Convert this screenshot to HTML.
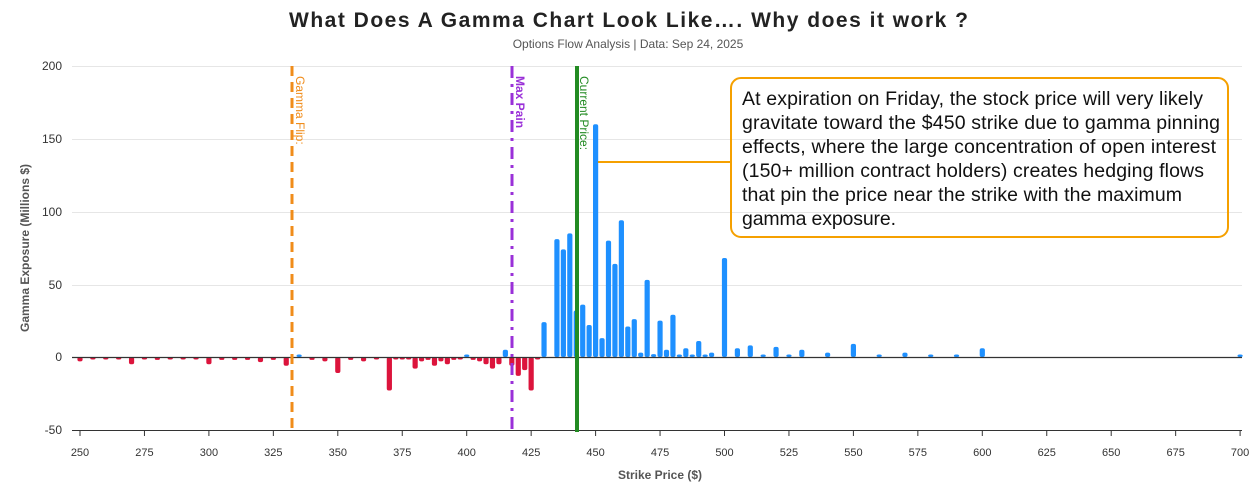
<!DOCTYPE html>
<html><head><meta charset="utf-8"><style>
body{margin:0;background:#fff;width:1256px;height:486px;overflow:hidden;font-family:"Liberation Sans",sans-serif}
</style></head><body>
<svg id="s" width="1256" height="486" xmlns="http://www.w3.org/2000/svg" font-family="Liberation Sans, sans-serif">
<text x="289" y="27" textLength="679" lengthAdjust="spacing" font-size="21" font-weight="bold" fill="#222">What Does A Gamma Chart Look Like…. Why does it work ?</text>
<text x="628" y="48" text-anchor="middle" font-size="12" fill="#555">Options Flow Analysis | Data: Sep 24, 2025</text>
<g stroke="#e6e6e6" stroke-width="1">
<line x1="72" x2="1242" y1="66.5" y2="66.5"/><line x1="72" x2="1242" y1="139.5" y2="139.5"/><line x1="72" x2="1242" y1="212.5" y2="212.5"/><line x1="72" x2="1242" y1="285.5" y2="285.5"/><line x1="72" x2="1242" y1="430.5" y2="430.5"/>
</g>
<g font-size="12" fill="#333" text-anchor="end">
<text x="62" y="70">200</text><text x="62" y="143">150</text><text x="62" y="216">100</text><text x="62" y="289">50</text><text x="62" y="361">0</text><text x="62" y="434">-50</text>
</g>
<text transform="translate(29,248) rotate(-90)" text-anchor="middle" font-size="12" font-weight="bold" fill="#555">Gamma Exposure (Millions $)</text>
<text x="660" y="479" text-anchor="middle" font-size="12" font-weight="bold" fill="#555">Strike Price ($)</text>
<line x1="72" x2="1242" y1="430.5" y2="430.5" stroke="#333"/>
<g id="bars"></g>
<line x1="72" x2="1242" y1="357.5" y2="357.5" stroke="#333" stroke-width="1.2"/>
<g id="ticks" font-size="11" fill="#333" text-anchor="middle"></g>
<line x1="292" x2="292" y1="66" y2="432" stroke="#f08c1a" stroke-width="3" stroke-dasharray="10,6"/>
<text transform="translate(296,76) rotate(90)" font-size="12" fill="#f08c1a">Gamma Flip:</text>
<line x1="512" x2="512" y1="66" y2="432" stroke="#9a30d8" stroke-width="3" stroke-dasharray="12,6,3,6"/>
<text transform="translate(516,76) rotate(90)" font-size="12" font-weight="bold" fill="#9a30d8">Max Pain</text>
<line x1="577" x2="577" y1="66" y2="432" stroke="#228b22" stroke-width="4"/>
<text transform="translate(580,76) rotate(90)" font-size="12" fill="#228b22">Current Price:</text>
<line x1="598" x2="731" y1="162" y2="162" stroke="#f5a000" stroke-width="2"/>
<rect x="731" y="78" width="497" height="159" rx="10" fill="none" stroke="#f5a000" stroke-width="2"/>
<g font-size="19.5" fill="#111" lengthAdjust="spacing">
<text x="742" y="105" textLength="461">At expiration on Friday, the stock price will very likely</text>
<text x="742" y="129" textLength="478">gravitate toward the $450 strike due to gamma pinning</text>
<text x="742" y="153" textLength="474">effects, where the large concentration of open interest</text>
<text x="742" y="177" textLength="462">(150+ million contract holders) creates hedging flows</text>
<text x="742" y="201" textLength="440">that pin the price near the strike with the maximum</text>
<text x="742" y="225" textLength="154">gamma exposure.</text>
</g>
</svg>
<script>
var X=function(v){return 80+(v-250)*2.578},Y=function(v){return 357-v*1.455};
var d=[[250,-3],[255,-1],[260,-1],[265,-1],[270,-5],[275,-1],[280,-2],[285,-1],[290,-1],[295,-1],[300,-5],[305,-2],[310,-2],[315,-2],[320,-3.5],[325,-2],[330,-6],[335,1],[340,-2],[345,-3],[350,-11],[355,-2],[360,-3],[365,-1],[370,-23],[372.5,-1],[375,-1],[377.5,-1],[380,-8],[382.5,-3],[385,-2],[387.5,-6],[390,-3],[392.5,-5],[395,-2],[397.5,-1],[400,1],[402.5,-2],[405,-3],[407.5,-5],[410,-8],[412.5,-5],[415,5],[417.5,-6],[420,-13],[422.5,-9],[425,-23],[427.5,-1],
[430,24],[435,81],[437.5,74],[440,85],[442.5,32],[445,36],[447.5,22],[450,160],[452.5,13],[455,80],[457.5,64],[460,94],[462.5,21],[465,26],[467.5,3],[470,53],[472.5,2],[475,25],[477.5,5],[480,29],[482.5,1],[485,6],[487.5,1],[490,11],[492.5,1],[495,3],[500,68],[505,6],[510,8],[515,1],[520,7],[525,1],[530,5],[540,3],[550,9],[560,1],[570,3],[580,1],[590,1],[600,6],[700,1]];
var h='';d.forEach(function(p){var x=X(p[0]),v=p[1],y0=357,y1=Y(v),c=v>0?'#1e90ff':'#dc143c';var t=Math.min(y0,y1),hh=Math.max(Math.abs(y1-y0),2.5);h+='<rect x="'+(x-2.6)+'" y="'+(v>0?y0-hh:t)+'" width="5.2" height="'+hh+'" rx="2" fill="'+c+'"/>';});
document.getElementById('bars').innerHTML=h;
var t='';for(var v=250;v<=700;v+=25){var x=X(v);t+='<line x1="'+x+'" x2="'+x+'" y1="430" y2="436" stroke="#333"/><text x="'+x+'" y="456">'+v+'</text>';}
document.getElementById('ticks').innerHTML=t;
</script>
</body></html>
